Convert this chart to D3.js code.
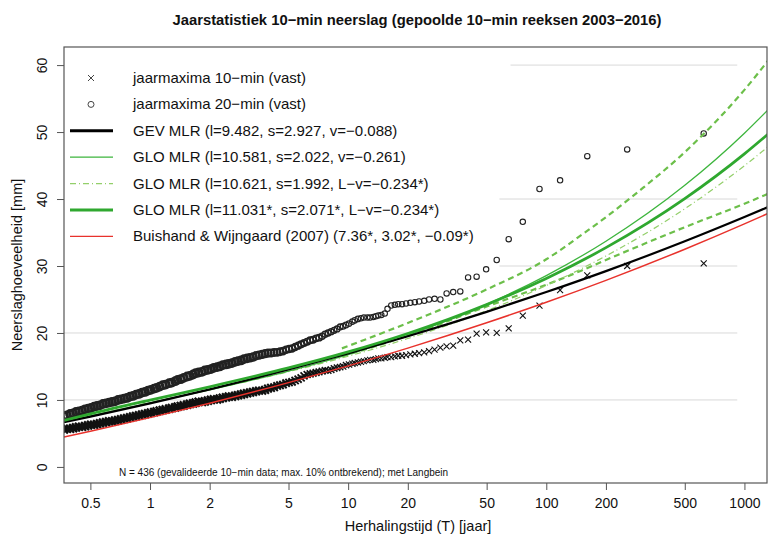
<!DOCTYPE html>
<html lang="nl">
<head>
<meta charset="UTF-8" />
<title>Jaarstatistiek 10-min neerslag</title>
<style>
  body { margin: 0; background: #fff; }
  text { font-family: "Liberation Sans", Arial, sans-serif; fill: #111; }
</style>
</head>
<body>
<svg id="svg" width="768" height="540"></svg>
<script src="https://d3js.org/d3.v7.min.js"></script>
<script>
// return periods (Langbein) of the densely packed annual maxima
const denseT = [
  0.368, 0.381, 0.395, 0.409, 0.423, 0.438, 0.454, 0.470, 0.487, 0.504,
  0.522, 0.540, 0.559, 0.579, 0.600, 0.621, 0.643, 0.666, 0.690, 0.714,
  0.740, 0.766, 0.793, 0.821, 0.850, 0.880, 0.912, 0.944, 0.978, 1.01,
  1.05, 1.08, 1.12, 1.16, 1.20, 1.25, 1.29, 1.34, 1.38, 1.43,
  1.48, 1.54, 1.59, 1.65, 1.70, 1.76, 1.83, 1.89, 1.96, 2.03,
  2.10, 2.18, 2.25, 2.33, 2.42, 2.50, 2.59, 2.69, 2.78, 2.88,
  2.98, 3.09, 3.20, 3.31, 3.43, 3.55, 3.68, 3.81, 3.94, 4.08,
  4.23, 4.38, 4.53, 4.69, 4.86, 5.03, 5.21, 5.40, 5.59, 5.79,
  5.99, 6.21, 6.43, 6.65, 6.89, 7.13, 7.39, 7.65, 7.92, 8.20,
  8.49, 8.79, 9.11, 9.43, 9.76, 10.1, 10.5, 10.8, 11.2, 11.6,
  12.0, 12.5, 12.9, 13.4, 13.8
];
const dense10 = [
  5.6, 5.7, 5.7, 5.8, 5.9, 6.0, 6.0, 6.1, 6.2, 6.3,
  6.3, 6.4, 6.5, 6.6, 6.7, 6.8, 6.8, 6.9, 7.0, 7.1,
  7.2, 7.3, 7.4, 7.5, 7.6, 7.7, 7.8, 7.9, 8.0, 8.1,
  8.2, 8.3, 8.4, 8.5, 8.6, 8.7, 8.8, 8.9, 9.0, 9.1,
  9.2, 9.3, 9.4, 9.5, 9.6, 9.7, 9.7, 9.8, 9.9, 10.0,
  10.1, 10.1, 10.2, 10.3, 10.4, 10.5, 10.5, 10.6, 10.7, 10.8,
  10.9, 11.0, 11.1, 11.2, 11.3, 11.4, 11.4, 11.5, 11.7, 11.8,
  11.9, 12.1, 12.2, 12.3, 12.5, 12.6, 12.7, 12.9, 13.1, 13.3,
  13.6, 13.8, 13.9, 14.0, 14.1, 14.2, 14.3, 14.4, 14.4, 14.5,
  14.7, 14.8, 14.9, 15.0, 15.2, 15.3, 15.4, 15.5, 15.6, 15.7,
  15.8, 15.9, 16.0, 16.0, 16.1
];
const dense20 = [
  7.6, 7.7, 7.9, 8.0, 8.2, 8.3, 8.4, 8.6, 8.7, 8.8,
  9.0, 9.1, 9.2, 9.4, 9.5, 9.6, 9.7, 9.8, 10.0, 10.1,
  10.2, 10.3, 10.5, 10.6, 10.8, 10.9, 11.1, 11.2, 11.4, 11.5,
  11.7, 11.8, 12.0, 12.2, 12.3, 12.5, 12.6, 12.8, 13.0, 13.1,
  13.3, 13.5, 13.6, 13.8, 14.0, 14.1, 14.2, 14.4, 14.5, 14.6,
  14.8, 14.9, 15.0, 15.2, 15.3, 15.4, 15.5, 15.7, 15.8, 15.9,
  16.1, 16.2, 16.3, 16.4, 16.6, 16.7, 16.8, 16.9, 17.0, 17.0,
  17.1, 17.1, 17.2, 17.3, 17.5, 17.6, 17.7, 17.9, 18.1, 18.3,
  18.5, 18.7, 18.9, 19.0, 19.2, 19.3, 19.5, 19.8, 20.0, 20.2,
  20.4, 20.6, 20.9, 21.0, 21.2, 21.4, 21.7, 21.9, 22.1, 22.2,
  22.3, 22.3, 22.3, 22.4, 22.5
];

// the 30 largest annual maxima (rank 1..30)
const tailT = [
  623, 256, 161, 117.4, 92.4, 76.1, 64.6, 56.2, 49.7, 44.5,
  40.3, 36.8, 33.9, 31.4, 29.2, 27.3, 25.6, 24.2, 22.8, 21.7,
  20.6, 19.6, 18.7, 17.9, 17.2, 16.5, 15.8, 15.3, 14.7, 14.2
];
const tail10 = [
  30.4, 30.0, 28.6, 26.4, 24.1, 22.6, 20.7, 20.0, 20.1, 19.9,
  19.0, 18.9, 18.1, 18.0, 17.8, 17.5, 17.3, 17.1, 17.0, 16.9,
  16.8, 16.7, 16.6, 16.6, 16.5, 16.4, 16.4, 16.3, 16.2, 16.2
];
const tail20 = [
  49.8, 47.4, 46.4, 42.8, 41.5, 36.6, 34.0, 30.9, 29.5, 28.4,
  28.3, 26.2, 26.1, 25.9, 25.0, 25.1, 25.0, 24.8, 24.7, 24.6,
  24.5, 24.4, 24.3, 24.3, 24.2, 24.1, 23.6, 22.9, 22.7, 22.6
];

// fitted distribution curves
const curveT = [0.368, 0.5, 1, 2, 5, 10, 20, 50, 100, 200, 500, 1000, 1320];
const gevMlr = [6.68, 7.51, 9.48, 11.58, 14.54, 16.95, 19.51, 23.15, 26.11, 29.24, 33.69, 37.31, 38.81];
const gloMlr = [6.71, 7.61, 9.56, 11.51, 14.32, 16.78, 19.66, 24.29, 28.57, 33.70, 42.05, 49.83, 53.37];
const gloLv = [6.69, 7.62, 9.61, 11.53, 14.22, 16.53, 19.17, 23.32, 27.09, 31.50, 38.54, 44.97, 47.84];
const gloFixed = [6.94, 7.92, 9.98, 11.97, 14.78, 17.17, 19.92, 24.24, 28.15, 32.74, 40.06, 46.74, 49.73];
const buishand = [4.47, 5.33, 7.36, 9.52, 12.59, 15.09, 17.74, 21.52, 24.59, 27.86, 32.51, 36.29, 37.87];

// confidence band around GLO (fixed)
const bandT = [9.3, 20, 50, 100, 150, 200, 300, 500, 1000, 1320];
const bandUpper = [17.7, 21.5, 26.5, 31.0, 34.6, 37.3, 41.4, 47.0, 56.3, 60.7];
const bandLower = [16.5, 19.6, 23.95, 27.2, 29.3, 30.9, 33.1, 35.8, 39.3, 40.8];

const xTicks = [0.5, 1, 2, 5, 10, 20, 50, 100, 200, 500, 1000];
const yTicks = [0, 10, 20, 30, 40, 50, 60];
const gridLevels = [10, 20, 30, 40, 60];
const gridFrom = [0.368, 0.368, 58, 58, 66];
const gridTo = 920;

const legendLabels = [
  "jaarmaxima 10\u2212min (vast)",
  "jaarmaxima 20\u2212min (vast)",
  "GEV MLR (l=9.482, s=2.927, v=\u22120.088)",
  "GLO MLR (l=10.581, s=2.022, v=\u22120.261)",
  "GLO MLR (l=10.621, s=1.992, L\u2212v=\u22120.234*)",
  "GLO MLR (l=11.031*, s=2.071*, L\u2212v=\u22120.234*)",
  "Buishand & Wijngaard (2007) (7.36*, 3.02*, \u22120.09*)"
];

const svg = d3.select("#svg");
const box = { left: 64, right: 767, top: 47, bottom: 483 };

const x = d3.scaleLog().domain([0.368, 1300]).range([box.left, box.right]);
const y = d3.scaleLinear().domain([-2.4, 62.7]).range([box.bottom, box.top]);

svg.append("defs").append("clipPath").attr("id", "clip")
  .append("rect")
  .attr("x", box.left).attr("y", box.top)
  .attr("width", box.right - box.left).attr("height", box.bottom - box.top);

// title
svg.append("text")
  .attr("x", 417).attr("y", 25)
  .attr("text-anchor", "middle")
  .style("font-size", "14.8px").style("font-weight", "bold")
  .text("Jaarstatistiek 10\u2212min neerslag (gepoolde 10\u2212min reeksen 2003\u22122016)");

// grid lines
svg.append("g").selectAll("line")
  .data(gridLevels)
  .join("line")
  .attr("x1", (d, i) => x(gridFrom[i])).attr("x2", x(gridTo))
  .attr("y1", d => y(d)).attr("y2", d => y(d))
  .attr("stroke", "#c8c8c8").attr("stroke-width", 0.7);

const plotArea = svg.append("g").attr("clip-path", "url(#clip)");

// annual maxima; where hundreds of symbols overlap they merge into a solid band,
// so the symbol stroke is made heavier the more tightly packed the points are
const pts10 = denseT.map((t, i) => [t, dense10[i]]).concat(tailT.map((t, i) => [t, tail10[i]]));
const pts20 = denseT.map((t, i) => [t, dense20[i]]).concat(tailT.map((t, i) => [t, tail20[i]]));
const weight = d3.scaleLog().domain([3, 12]).range([2.4, 1.1]).clamp(true);
const size = d3.scaleLog().domain([3, 12]).range([4, 3]).clamp(true);

plotArea.append("g").selectAll("path")
  .data(pts10)
  .join("path")
  .attr("transform", d => `translate(${x(d[0])},${y(d[1])})`)
  .attr("d", d => {
    const s = size(d[0]);
    return `M${-s},${-s}L${s},${s}M${-s},${s}L${s},${-s}` + (d[0] < 3 ? `M${-s},0L${s},0` : "");
  })
  .attr("stroke", "#111")
  .attr("stroke-width", d => weight(d[0]))
  .attr("fill", "none");

plotArea.append("g").selectAll("circle")
  .data(pts20)
  .join("circle")
  .attr("cx", d => x(d[0])).attr("cy", d => y(d[1]))
  .attr("r", d => size(d[0]) - 0.3)
  .attr("stroke", "#222")
  .attr("stroke-width", d => weight(d[0]))
  .attr("fill", "none");

// curves
const line = d3.line()
  .x(d => x(d[0])).y(d => y(d[1]))
  .curve(d3.curveMonotoneX);

const curves = [
  { t: bandT, v: bandUpper, color: "#6cbf4a", width: 2.2, dash: "6,4" },
  { t: bandT, v: bandLower, color: "#6cbf4a", width: 2.2, dash: "6,4" },
  { t: curveT, v: gloLv, color: "#93cf6a", width: 1.2, dash: "6,3,1,3" },
  { t: curveT, v: gloMlr, color: "#3db53d", width: 1.3, dash: null },
  { t: curveT, v: buishand, color: "#e8322c", width: 1.5, dash: null },
  { t: curveT, v: gevMlr, color: "#000", width: 2.2, dash: null },
  { t: curveT, v: gloFixed, color: "#2fa82f", width: 2.8, dash: null }
];

plotArea.append("g").selectAll("path")
  .data(curves)
  .join("path")
  .attr("d", c => line(c.t.map((t, i) => [t, c.v[i]])))
  .attr("fill", "none")
  .attr("stroke", c => c.color)
  .attr("stroke-width", c => c.width)
  .attr("stroke-dasharray", c => c.dash);

// frame
svg.append("rect")
  .attr("x", box.left).attr("y", box.top)
  .attr("width", box.right - box.left).attr("height", box.bottom - box.top)
  .attr("fill", "none").attr("stroke", "#555").attr("stroke-width", 1.2);

// axes
const xAxis = svg.append("g")
  .attr("transform", `translate(0,${box.bottom})`)
  .call(d3.axisBottom(x).tickValues(xTicks).tickFormat(d => d).tickSize(7).tickPadding(8));
xAxis.select(".domain").remove();
xAxis.selectAll("line").attr("stroke", "#555");
xAxis.selectAll("text").style("font-size", "14px").attr("fill", "#111");

const yAxis = svg.append("g")
  .attr("transform", `translate(${box.left},0)`)
  .call(d3.axisLeft(y).tickValues(yTicks).tickSize(7));
yAxis.select(".domain").remove();
yAxis.selectAll("line").attr("stroke", "#555");
yAxis.selectAll("text")
  .attr("x", 0).attr("y", -17).attr("dy", null)
  .attr("text-anchor", "middle")
  .attr("transform", "rotate(-90)")
  .style("font-size", "14px").attr("fill", "#111");

svg.append("text")
  .attr("x", 418).attr("y", 531)
  .attr("text-anchor", "middle")
  .style("font-size", "14.5px")
  .text("Herhalingstijd (T) [jaar]");

svg.append("text")
  .attr("transform", `translate(22,265) rotate(-90)`)
  .attr("text-anchor", "middle")
  .style("font-size", "14.5px")
  .text("Neerslaghoeveelheid [mm]");

svg.append("text")
  .attr("x", 119).attr("y", 476)
  .style("font-size", "10px")
  .text("N = 436 (gevalideerde 10\u2212min data; max. 10% ontbrekend); met Langbein");

// legend
const legend = svg.append("g");
const rowY = i => 78 + i * 26.4;
const legendStyle = [
  { kind: "cross" },
  { kind: "circle" },
  { kind: "line", color: "#000", width: 3, dash: null },
  { kind: "line", color: "#3db53d", width: 1.3, dash: null },
  { kind: "line", color: "#93cf6a", width: 1.2, dash: "6,3,1,3" },
  { kind: "line", color: "#2fa82f", width: 3, dash: null },
  { kind: "line", color: "#e8322c", width: 1.3, dash: null }
];
legendStyle.forEach((s, i) => {
  const cy = rowY(i);
  if (s.kind === "cross") {
    legend.append("path")
      .attr("transform", `translate(91,${cy})`)
      .attr("d", "M-3,-3L3,3M-3,3L3,-3")
      .attr("stroke", "#444").attr("stroke-width", 1);
  } else if (s.kind === "circle") {
    legend.append("circle")
      .attr("cx", 91).attr("cy", cy).attr("r", 3)
      .attr("stroke", "#444").attr("stroke-width", 1).attr("fill", "none");
  } else {
    legend.append("line")
      .attr("x1", 70).attr("x2", 113).attr("y1", cy).attr("y2", cy)
      .attr("stroke", s.color).attr("stroke-width", s.width)
      .attr("stroke-dasharray", s.dash);
  }
  legend.append("text")
    .attr("x", 133).attr("y", cy + 5)
    .style("font-size", "15px")
    .text(legendLabels[i]);
});
</script>
</body>
</html>
